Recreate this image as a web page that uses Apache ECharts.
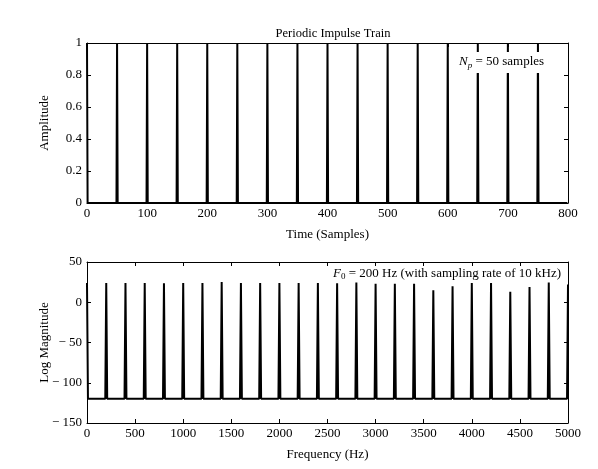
<!DOCTYPE html>
<html>
<head>
<meta charset="utf-8">
<script src="https://cdn.jsdelivr.net/npm/echarts@6/dist/echarts.min.js"></script>
<style>
  html, body { margin: 0; padding: 0; background: #fff; }
  #chart { width: 598px; height: 469px; }
</style>
</head>
<body>
<div id="chart"></div>
<script>
// impulse train: sample positions of the impulses and their amplitude
const impulseSamples = [0, 50, 100, 150, 200, 250, 300, 350, 400, 450, 500, 550, 600, 650, 700, 750];
const impulseAmp = 1;
const lastSample = 799;

// log magnitude spectrum: harmonic frequencies (Hz) and peak levels (dB)
const harmonicHz = [0, 200, 400, 600, 800, 1000, 1200, 1400, 1600, 1800, 2000, 2200, 2400,
  2600, 2800, 3000, 3200, 3400, 3600, 3800, 4000, 4200, 4400, 4600, 4800, 5000];
const peakDb = [24, 24, 24, 24, 23.5, 24, 24, 25, 24, 24, 24, 24, 24,
  23.5, 24.5, 23, 23, 23, 15, 20, 24, 24, 13, 19, 24.5, 22];
const floorDb = -120;

const timeTicks = [0, 800, 100];
const ampTicks = [0, 1, 0.2];
const freqTicks = [0, 5000, 500];
const dbTicks = [-150, 50, 50];

const font = 'Liberation Serif';

// build the line: every sample between impulses sits at 0
const timeLine = [];
impulseSamples.forEach(function (n, i) {
  timeLine.push([n, impulseAmp]);
  timeLine.push([n + 1, 0]);
  const next = i < impulseSamples.length - 1 ? impulseSamples[i + 1] : lastSample + 1;
  timeLine.push([next - 1, 0]);
});

// each harmonic is a narrow spike rising from the floor
const halfWidth = 10;
const specLine = [];
harmonicHz.forEach(function (f, i) {
  if (f - halfWidth >= 0) specLine.push([f - halfWidth, floorDb]);
  specLine.push([f, peakDb[i]]);
  if (f + halfWidth <= 5000) specLine.push([f + halfWidth, floorDb]);
});

function fmt(v) {
  return v < 0 ? '\u2212 ' + Math.abs(v) : String(v);
}

const axisLine = { show: true, onZero: false, lineStyle: { color: '#000', width: 1 } };
const tickIn = { show: true, inside: true, length: 4, lineStyle: { color: '#000' } };
const lbl = { color: '#000', fontFamily: font, fontSize: 13 };
const nameStyle = { color: '#000', fontFamily: font, fontSize: 13 };

function xAxes(grid, t, name) {
  return [{
    type: 'value', gridIndex: grid, min: t[0], max: t[1], interval: t[2],
    name: name, nameLocation: 'middle', nameGap: 25, nameTextStyle: nameStyle,
    axisLine: axisLine, axisTick: tickIn, splitLine: { show: false },
    axisLabel: Object.assign({ margin: 4, formatter: fmt }, lbl)
  }, {
    type: 'value', gridIndex: grid, position: 'top', min: t[0], max: t[1], interval: t[2],
    axisLine: axisLine, axisTick: tickIn, axisLabel: { show: false }, splitLine: { show: false }
  }];
}

function yAxes(grid, t, name, gap) {
  return [{
    type: 'value', gridIndex: grid, min: t[0], max: t[1], interval: t[2],
    name: name, nameLocation: 'middle', nameGap: gap, nameMoveOverlap: false,
    nameTextStyle: nameStyle,
    axisLine: axisLine, axisTick: tickIn, splitLine: { show: false },
    axisLabel: Object.assign({ margin: 5, formatter: fmt }, lbl)
  }, {
    type: 'value', gridIndex: grid, position: 'right', min: t[0], max: t[1], interval: t[2],
    axisLine: axisLine, axisTick: tickIn, axisLabel: { show: false }, splitLine: { show: false }
  }];
}

const chart = echarts.init(document.getElementById('chart'), null, { renderer: 'canvas' });

chart.setOption({
  backgroundColor: '#fff',
  animation: false,
  title: {
    text: 'Periodic Impulse Train', left: 328, top: 22, textAlign: 'center',
    textStyle: { color: '#000', fontFamily: font, fontSize: 12.5, fontWeight: 'normal' }
  },
  grid: [
    { left: 87, top: 43, width: 481, height: 160 },
    { left: 87, top: 262, width: 481, height: 161 }
  ],
  xAxis: xAxes(0, timeTicks, 'Time (Samples)').concat(xAxes(1, freqTicks, 'Frequency (Hz)')),
  yAxis: yAxes(0, ampTicks, 'Amplitude', 36).concat(yAxes(1, dbTicks, 'Log Magnitude', 36)),
  graphic: [{
    type: 'text', left: 457, top: 52, z: 100,
    style: {
      text: '{i|N}{s|p} = 50 samples',
      fill: '#000', font: '13px "Liberation Serif"',
      backgroundColor: '#fff', padding: [2, 2, 3, 2],
      rich: {
        i: { fontFamily: font, fontSize: 13, fontStyle: 'italic', fill: '#000' },
        s: { fontFamily: font, fontSize: 9, fontStyle: 'italic', fill: '#000', padding: [7, 0, 0, 0] }
      }
    }
  }, {
    type: 'text', left: 333, top: 267, z: 100,
    style: {
      text: '{i|F}{s|0} = 200 Hz (with sampling rate of 10 kHz)',
      fill: '#000', font: '13px "Liberation Serif"',
      rich: {
        i: { fontFamily: font, fontSize: 13, fontStyle: 'italic', fill: '#000' },
        s: { fontFamily: font, fontSize: 9, fill: '#000', padding: [7, 0, 0, 0] }
      }
    }
  }],
  series: [{
    type: 'line', xAxisIndex: 0, yAxisIndex: 0, data: timeLine,
    showSymbol: false, lineStyle: { color: '#000', width: 2 }
  }, {
    type: 'line', xAxisIndex: 2, yAxisIndex: 2, data: specLine,
    showSymbol: false, lineStyle: { color: '#000', width: 2 }
  }]
});
</script>
</body>
</html>
